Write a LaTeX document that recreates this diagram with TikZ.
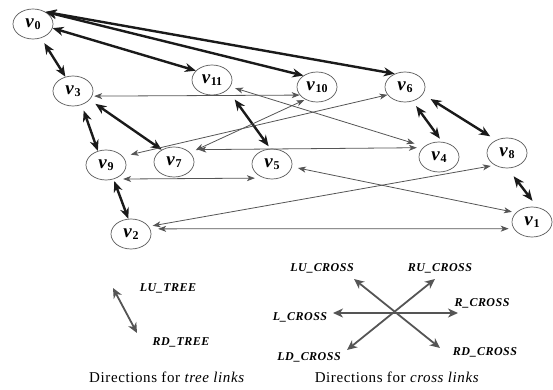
\documentclass[tikz,border=0pt]{standalone}
\usepackage{fontspec}
\setmainfont{Liberation Serif}
\newfontfamily\spacedserif[LetterSpace=4]{Liberation Serif}
\usetikzlibrary{arrows.meta,shapes.geometric}
\definecolor{treeink}{HTML}{1A1A1A}
\definecolor{crossink}{HTML}{555555}
\definecolor{rimink}{HTML}{5A5A5A}
% vertex label: bold italic v with a bold subscript index
\newcommand{\vname}[1]{\textbf{\textit{v}}\kern0.5pt\raisebox{-2.5pt}{\fontsize{12}{12}\selectfont\textbf{#1}}}

\begin{document}
\begin{tikzpicture}[x=1pt,y=-1pt,
  vertex/.style={ellipse, draw=rimink, line width=0.7pt, minimum width=40pt,
    minimum height=30pt, inner sep=0pt, font=\fontsize{19}{19}\selectfont},
  treetip/.tip={Stealth[length=11pt,width=9pt,inset=3.5pt]},
  crosstip/.tip={Stealth[length=8pt,width=6pt,inset=2.2pt]},
  keytip/.tip={Stealth[length=10pt,width=9pt,inset=3pt]},
  treelink/.style={draw=treeink, line width=2.4pt, treetip-treetip},
  crosslink/.style={draw=crossink, line width=0.8pt, crosstip-crosstip},
  keyarrow/.style={draw=crossink, line width=1.8pt, keytip-keytip},
  dirlabel/.style={anchor=base, inner sep=0pt,
    font=\spacedserif\fontsize{12}{12}\selectfont\bfseries\itshape},
  captiontext/.style={anchor=base, inner sep=0pt,
    font=\spacedserif\fontsize{15}{15}\selectfont}
]
\useasboundingbox (0,0) rectangle (553,390);

% vertices
\node[vertex] (v0)  at (33,24)   {\vname{0}};
\node[vertex] (v11) at (212,80)  {\vname{11}};
\node[vertex] (v3)  at (73,91)   {\vname{3}};
\node[vertex] (v10) at (317,87)  {\vname{10}};
\node[vertex] (v6)  at (405,87)  {\vname{6}};
\node[vertex] (v9)  at (106,165) {\vname{9}};
\node[vertex] (v7)  at (174,162) {\vname{7}};
\node[vertex] (v5)  at (272,164) {\vname{5}};
\node[vertex] (v4)  at (439,157) {\vname{4}};
\node[vertex] (v8)  at (507,153) {\vname{8}};
\node[vertex] (v1)  at (532,222) {\vname{1}};
\node[vertex] (v2)  at (131,234) {\vname{2}};

% tree links
\draw[treelink] (v0.44) -- (v6.128);
\draw[treelink] (v0.44) -- (v10.140);
\draw[treelink] (v0.-12) -- (v11.150);
\draw[treelink, shorten <=6pt] (v0.-60) -- (v3.118);
\draw[treelink, shorten <=6pt] (v3.-58) -- (v9.120);
\draw[treelink, shorten <=7pt] (v3.-28) -- (v7.135);
\draw[treelink, shorten <=2pt] (v9.-62) -- (v2.100);
\draw[treelink, shorten <=12pt, shorten >=3pt] (v11.-32) -- (v5.96);
\draw[treelink, shorten <=6pt, shorten >=4pt] (v6.-62) -- (v4.78);
\draw[treelink, shorten <=9pt, shorten >=7pt] (v6.-22) -- (v8.130);
\draw[treelink, shorten <=10pt, shorten >=8pt] (v8.-88) -- (v1.70);

% cross links
\draw[crosslink, shorten <=2pt] (v3.-15) -- (v10.205);
\draw[crosslink, shorten <=8pt] (v9.27) -- (v6.204);
\draw[crosslink, shorten <=6pt, shorten >=1pt] (v7.30) -- (v10.227);
\draw[crosslink, shorten <=12pt, shorten >=6pt] (v7.45) -- (v4.150);
\draw[crosslink, shorten <=5pt, shorten >=10pt] (v11.-20) -- (v4.145);
\draw[crosslink, shorten <=9pt, shorten >=9pt] (v9.-60) -- (v5.240);
\draw[crosslink, shorten <=6pt, shorten >=4pt] (v5.-8) -- (v1.150);
\draw[crosslink, shorten <=4pt, shorten >=4pt] (v2.23) -- (v8.225);
\draw[crosslink, shorten <=8pt, shorten >=5pt] (v2.15) -- (v1.200);

% key: directions for tree links
\coordinate (treeLU) at (113,288);
\coordinate (treeRD) at (137,333);
\draw[keyarrow] (treeLU) -- (treeRD);
\node[dirlabel] (luTree) at (168,291) {LU\_TREE};
\node[dirlabel] (rdTree) at (181,345) {RD\_TREE};
\node[captiontext] (treeCaption) at (167,382) {Directions for \textit{tree links}};

% key: directions for cross links
\coordinate (crossLU) at (354,279);
\coordinate (crossRD) at (440,348);
\coordinate (crossRU) at (435,279);
\coordinate (crossLD) at (347,350);
\coordinate (crossL)  at (333,313);
\coordinate (crossR)  at (458,313);
\draw[keyarrow] (crossLU) -- (crossRD);
\draw[keyarrow] (crossRU) -- (crossLD);
\draw[keyarrow] (crossL) -- (crossR);
\node[dirlabel] (luCross) at (322,271) {LU\_CROSS};
\node[dirlabel] (ruCross) at (440,271) {RU\_CROSS};
\node[dirlabel] (rCross)  at (482,306) {R\_CROSS};
\node[dirlabel] (lCross)  at (300,320) {L\_CROSS};
\node[dirlabel] (ldCross) at (309,360) {LD\_CROSS};
\node[dirlabel] (rdCross) at (485,355) {RD\_CROSS};
\node[captiontext] (crossCaption) at (397,382) {Directions for \textit{cross links}};
\end{tikzpicture}
\end{document}
